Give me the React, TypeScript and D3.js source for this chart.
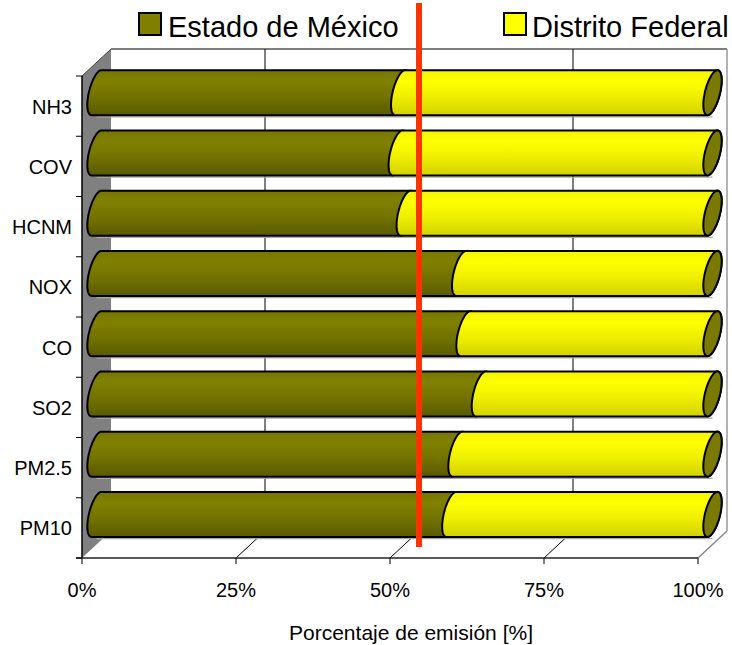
import React from "react";
import * as d3 from "d3";

const categories = ["NH3", "COV", "HCNM", "NOX", "CO", "SO2", "PM2.5", "PM10"];
const estadoMexico = [49.3, 48.9, 50.2, 59.2, 59.9, 62.4, 58.6, 57.6];
const distritoFederal = estadoMexico.map((v) => 100 - v);
const xTicks = [0, 25, 50, 75, 100];
const xTickLabels = ["0%", "25%", "50%", "75%", "100%"];
const seriesNames = ["Estado de México", "Distrito Federal"];
const xTitle = "Porcentaje de emisión [%]";

const W = 732;
const H = 645;
const FONT = "'Liberation Sans', Arial, Helvetica, sans-serif";

export default function App() {
  const x = d3.scaleLinear().domain([0, 100]).range([82, 698]);
  const y = d3.scaleBand().domain(categories).range([76, 558]).paddingInner(0).paddingOuter(0);
  const dx = 29;
  const dy = -27;
  const yTop = 76;
  const yBot = 558;
  const rx = 7.7;
  const s = 5;
  const ry = 22.5;

  const ell = (cx: number, cy: number, t: number): [number, number] => [
    cx + rx * Math.cos(t) - s * Math.sin(t),
    cy + ry * Math.sin(t),
  ];

  const segPath = (v0: number, v1: number, cy: number) => {
    const cx0 = x(v0) + dx / 2;
    const cx1 = x(v1) + dx / 2;
    const p = d3.path();
    const n = 24;
    const [sx, sy] = ell(cx0, cy, -Math.PI / 2);
    p.moveTo(sx, sy);
    for (let k = 0; k <= n; k++) {
      const t = -Math.PI / 2 + (Math.PI * k) / n;
      const [px, py] = ell(cx1, cy, t);
      p.lineTo(px, py);
    }
    for (let k = 0; k <= n; k++) {
      const t = Math.PI / 2 + (Math.PI * k) / n;
      const [px, py] = ell(cx0, cy, t);
      p.lineTo(px, py);
    }
    p.closePath();
    return p.toString();
  };

  const capPath = (v: number, cy: number) => {
    const cx = x(v) + dx / 2;
    const p = d3.path();
    const n = 48;
    for (let k = 0; k <= n; k++) {
      const t = (2 * Math.PI * k) / n;
      const [px, py] = ell(cx, cy, t);
      if (k === 0) p.moveTo(px, py);
      else p.lineTo(px, py);
    }
    p.closePath();
    return p.toString();
  };

  const bx = (v: number) => x(v) + dx;

  return (
    <svg width={W} height={H} style={{ display: "block", position: "absolute", left: 0, top: 0 }}>
      <defs>
        <linearGradient id="gOlive" x1="0" y1="0" x2="0" y2="1">
          <stop offset="0" stopColor="#777700" />
          <stop offset="0.25" stopColor="#808000" />
          <stop offset="0.6" stopColor="#727200" />
          <stop offset="1" stopColor="#5a5a00" />
        </linearGradient>
        <linearGradient id="gYellow" x1="0" y1="0" x2="0" y2="1">
          <stop offset="0" stopColor="#f4f400" />
          <stop offset="0.25" stopColor="#ffff00" />
          <stop offset="0.6" stopColor="#eeee00" />
          <stop offset="1" stopColor="#d2d200" />
        </linearGradient>
      </defs>
      <rect width={W} height={H} fill="#fff" />

      {/* back wall */}
      <rect x={bx(0)} y={yTop + dy} width={bx(100) - bx(0)} height={yBot - yTop} fill="#fff" />
      <line x1={bx(0)} x2={bx(100)} y1={yTop + dy} y2={yTop + dy} stroke="#000" strokeWidth={1.2} />
      <line x1={bx(100)} x2={bx(100)} y1={yTop + dy} y2={yBot + dy} stroke="#999" strokeWidth={1.5} />
      {xTicks.slice(1, 4).map((t) => (
        <g key={"g" + t}>
          <line x1={bx(t)} x2={bx(t)} y1={yTop + dy} y2={yBot + dy} stroke="#000" strokeWidth={1} />
          <line x1={x(t)} x2={bx(t)} y1={yBot} y2={yBot + dy} stroke="#000" strokeWidth={1} />
        </g>
      ))}
      {/* floor right edge */}
      <line x1={x(100)} x2={bx(100)} y1={yBot} y2={yBot + dy} stroke="#888" strokeWidth={1.5} />

      {/* left wall */}
      <polygon
        points={`${x(0)},${yTop} ${bx(0)},${yTop + dy} ${bx(0)},${yBot + dy} ${x(0)},${yBot}`}
        fill="#808080"
      />
      <line x1={x(0)} y1={yTop} x2={bx(0)} y2={yTop + dy} stroke="#444" strokeWidth={1} />

      {/* bars */}
      {categories.map((c, i) => {
        const cy = (y(c) as number) + y.bandwidth() / 2 + dy / 2;
        const v = estadoMexico[i];
        return (
          <g key={c}>
            <line
              x1={x(0) + dx / 2}
              x2={x(100) + dx / 2}
              y1={cy + ry + 1.8}
              y2={cy + ry + 1.8}
              stroke="#aaa"
              strokeWidth={1.2}
            />
            <path d={segPath(0, v, cy)} fill="url(#gOlive)" stroke="#000" strokeWidth={2} strokeLinejoin="round" />
            <path
              d={segPath(v, v + distritoFederal[i], cy)}
              fill="url(#gYellow)"
              stroke="#000"
              strokeWidth={2}
              strokeLinejoin="round"
            />
            <path d={capPath(100, cy)} fill="#7a7a00" stroke="#000" strokeWidth={2} />
          </g>
        );
      })}

      {/* axes */}
      <line x1={x(0)} x2={x(0)} y1={yTop} y2={yBot} stroke="#000" strokeWidth={1.5} />
      <line x1={x(0) - 6} x2={x(100)} y1={yBot} y2={yBot} stroke="#222" strokeWidth={1.5} />
      {d3.range(categories.length + 1).map((k) => {
        const yy = yTop + k * y.step();
        return <line key={"yt" + k} x1={x(0) - 6} x2={x(0)} y1={yy} y2={yy} stroke="#000" strokeWidth={1} />;
      })}
      {xTicks.map((t) => (
        <line key={"xt" + t} x1={x(t)} x2={x(t)} y1={yBot} y2={yBot + 6} stroke="#000" strokeWidth={1} />
      ))}
      {categories.map((c) => (
        <text
          key={"yl" + c}
          x={72}
          y={(y(c) as number) + y.bandwidth() / 2 + 7.5}
          textAnchor="end"
          fontFamily={FONT}
          fontSize={20}
          fill="#000"
        >
          {c}
        </text>
      ))}
      {xTicks.map((t, i) => (
        <text key={"xl" + t} x={x(t)} y={597} textAnchor="middle" fontFamily={FONT} fontSize={20} fill="#000">
          {xTickLabels[i]}
        </text>
      ))}
      <text x={411} y={640} textAnchor="middle" fontFamily={FONT} fontSize={21} fill="#000">
        {xTitle}
      </text>

      {/* red reference line */}
      <line x1={bx(50)} x2={bx(50)} y1={3} y2={547} stroke="#ff3300" strokeWidth={6} />

      {/* legend */}
      <rect x={139} y={13} width={22} height={22} fill="#808000" stroke="#000" strokeWidth={2} />
      <text x={168} y={37} fontFamily={FONT} fontSize={29} fill="#000">
        {seriesNames[0]}
      </text>
      <rect x={504} y={13} width={22} height={22} fill="#ffff00" stroke="#000" strokeWidth={2} />
      <text x={532} y={37} fontFamily={FONT} fontSize={29} fill="#000">
        {seriesNames[1]}
      </text>
    </svg>
  );
}
